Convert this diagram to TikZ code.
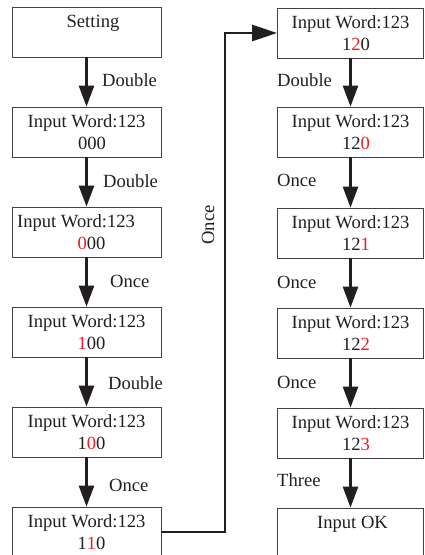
\documentclass[tikz,border=0pt]{standalone}
\usepackage{fontspec}
\setmainfont{Liberation Serif}
\usetikzlibrary{arrows.meta}

\definecolor{inkdark}{RGB}{35,31,32}
\definecolor{digitred}{RGB}{237,28,36}
\newcommand{\hl}[1]{\textcolor{digitred}{#1}}

\begin{document}
\begin{tikzpicture}[x=1pt, y=-1pt,
    box/.style={draw=inkdark!85, line width=0.8pt, minimum height=50pt, inner sep=0pt,
                align=center, font=\fontsize{18.6}{22}\selectfont, text=inkdark},
    lbox/.style={box, minimum width=149pt},
    rbox/.style={box, minimum width=146pt},
    arrow/.style={-{Triangle[length=21pt, width=15pt]}, line width=2.6pt, draw=inkdark},
    link/.style={-{Triangle[length=25pt, width=16pt]}, line width=2.6pt, draw=inkdark},
    label/.style={font=\fontsize{18.6}{22}\selectfont, text=inkdark, inner sep=0pt}
  ]
  \useasboundingbox (0,0) rectangle (425,555);

  % left column
  \node[lbox] (setting) at (86.5, 32) {\hspace*{13pt}Setting\\ \phantom{0}};
  \node[lbox] (step1) at (86.5, 132) {Input Word:123\\ \hspace*{11pt}000};
  \node[lbox] (step2) at (86.5, 232) {Input Word:123\hspace*{21pt}\\ \hspace*{10pt}\hl{0}00};
  \node[lbox] (step3) at (86.5, 332) {Input Word:123\\ \hspace*{10pt}\hl{1}00};
  \node[lbox] (step4) at (86.5, 432) {Input Word:123\\ \hspace*{10pt}1\hl{0}0};
  \node[lbox] (step5) at (86.5, 532) {Input Word:123\\ \hspace*{10pt}1\hl{1}0};

  % right column
  \node[rbox] (step6) at (350.5, 33) {Input Word:123\\ \hspace*{11pt}1\hl{2}0};
  \node[rbox] (step7) at (350.5, 132) {Input Word:123\\ \hspace*{11pt}12\hl{0}};
  \node[rbox] (step8) at (350.5, 233) {Input Word:123\\ \hspace*{11pt}12\hl{1}};
  \node[rbox] (step9) at (350.5, 333) {Input Word:123\\ \hspace*{11pt}12\hl{2}};
  \node[rbox] (step10) at (350.5, 433) {Input Word:123\\ \hspace*{11pt}12\hl{3}};
  \node[rbox] (done) at (350.5, 533) {\hspace*{4pt}Input OK\\ \phantom{0}};

  \draw[arrow] (setting) -- (step1);
  \draw[arrow] (step1) -- (step2);
  \draw[arrow] (step2) -- (step3);
  \draw[arrow] (step3) -- (step4);
  \draw[arrow] (step4) -- (step5);

  \draw[arrow] (step6) -- (step7);
  \draw[arrow] (step7) -- (step8);
  \draw[arrow] (step8) -- (step9);
  \draw[arrow] (step9) -- (step10);
  \draw[arrow] (step10) -- (done);

  % jump to right column
  \coordinate (bend) at (225, 300);
  \draw[link] (step5.east) -| (bend) |- (step6.west);

  \node[label, anchor=west] at (102, 80) {Double};
  \node[label, anchor=west] at (103, 181) {Double};
  \node[label, anchor=west] at (110, 281) {Once};
  \node[label, anchor=west] at (108, 383) {Double};
  \node[label, anchor=west] at (109, 485) {Once};
  \node[label, rotate=90] at (208, 225) {Once};

  \node[label, anchor=west] at (277, 80) {Double};
  \node[label, anchor=west] at (277, 180) {Once};
  \node[label, anchor=west] at (277, 282) {Once};
  \node[label, anchor=west] at (277, 382) {Once};
  \node[label, anchor=west] at (277, 480) {Three};
\end{tikzpicture}
\end{document}
